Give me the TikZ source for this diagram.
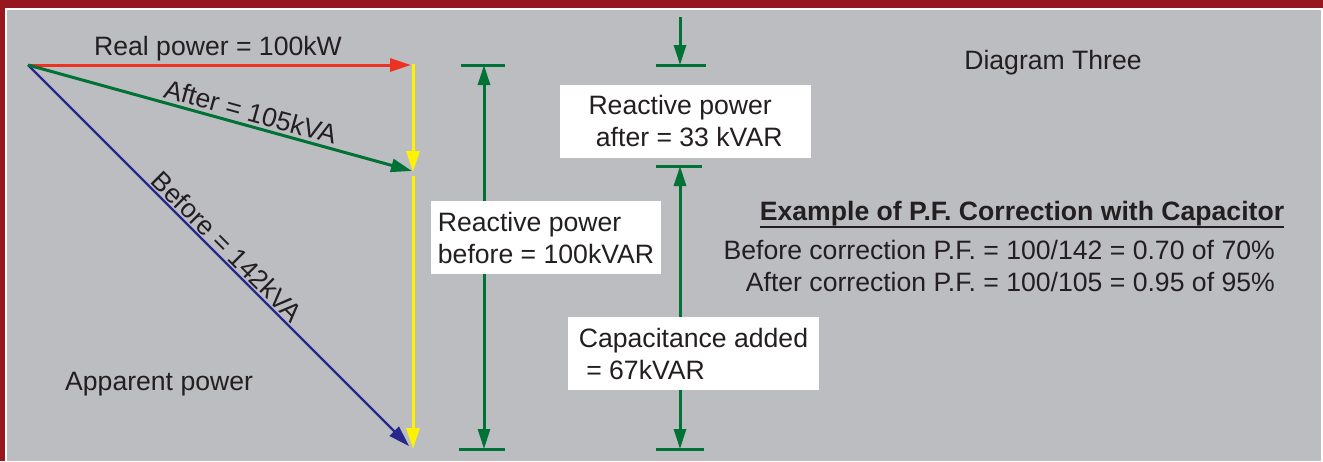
\documentclass[tikz,border=0pt]{standalone}
\usepackage{fontspec}
\setmainfont{Liberation Sans}
\usetikzlibrary{arrows.meta}

\definecolor{framered}{RGB}{150,24,30}
\definecolor{panelgray}{RGB}{188,189,193}
\definecolor{vecred}{RGB}{237,50,36}
\definecolor{vecgreen}{RGB}{0,114,54}
\definecolor{vecblue}{RGB}{40,40,140}
\definecolor{vecyellow}{RGB}{255,242,0}
\definecolor{txtgray}{RGB}{35,31,32}

\newcommand{\diagfont}{\fontsize{26.6}{32}\selectfont}

\begin{document}
\begin{tikzpicture}[x=1pt, y=-1pt,
    every node/.style={font=\diagfont, text=txtgray, inner sep=0pt},
    vec/.style={line width=3pt, -{Triangle[length=21pt,width=13pt]}},
    dimarr/.style={draw=vecgreen, line width=3pt, -{Triangle[length=20pt,width=12pt]}},
    tickline/.style={draw=vecgreen, line width=3pt},
    infobox/.style={fill=white, align=left, minimum height=73pt, inner ysep=4pt}]

    \useasboundingbox (0,0) rectangle (1323,461);

    % ==========================================
    % FRAME: red band, white rule, gray panel
    % ==========================================
    \fill[white] (0,0) rectangle (1323,461);
    \fill[framered] (0,0) rectangle (1323,7.5);
    \fill[framered] (0,0) rectangle (5,461);
    \fill[panelgray] (7.3,10) rectangle (1321,461);

    % ==========================================
    % POWER TRIANGLE
    % ==========================================
    \coordinate (O) at (28,65);
    \coordinate (realend) at (411,65);
    \coordinate (afterend) at (412,171);
    \coordinate (beforeend) at (409,446);
    \coordinate (ytop) at (413,64);
    \coordinate (ymid) at (413,172);
    \coordinate (ygap) at (413,176);
    \coordinate (ybot) at (413,449);

    % Real power (red)
    \draw[vec, vecred] (O) -- (realend);
    \node[anchor=base] (reallbl) at (218,55) {Real power = 100kW};

    % Apparent power before (blue)
    \draw[vec, vecblue, line width=2.4pt] (O) -- (beforeend)
        node[sloped, above, pos=0.5, inner sep=1.5pt] (beforelbl) {Before = 142kVA};

    % Apparent power after (green)
    \draw[vec, vecgreen] (O) -- (afterend)
        node[sloped, above, pos=0.57, inner sep=3pt] (afterlbl) {After = 105kVA};

    % Reactive power (yellow)
    \draw[vec, vecyellow] (ytop) -- (ymid);
    \draw[vec, vecyellow] (ygap) -- (ybot);

    \node[anchor=base west] (apparent) at (65,390) {Apparent power};

    % ==========================================
    % REACTIVE POWER BEFORE (dimension 1)
    % ==========================================
    \coordinate (t1top) at (484,65);
    \coordinate (t1bot) at (484,449);
    \draw[tickline] ([xshift=-23pt]t1top) -- ([xshift=21pt]t1top);
    \draw[tickline] ([xshift=-25pt]t1bot) -- ([xshift=21pt]t1bot);

    \node[infobox, minimum width=230pt] (box1) at (546,237.5)
        {Reactive power\\before = 100kVAR};
    \draw[dimarr] (box1.north -| t1top) -- (t1top);
    \draw[dimarr] (box1.south -| t1bot) -- (t1bot);

    % ==========================================
    % REACTIVE POWER AFTER / CAPACITANCE (dimension 2)
    % ==========================================
    \coordinate (t2start) at (680,17);
    \coordinate (t2top) at (680,65);
    \coordinate (t2mid) at (680,166);
    \coordinate (t2bot) at (680,449);
    \draw[tickline] ([xshift=-24pt]t2top) -- ([xshift=26pt]t2top);
    \draw[tickline] ([xshift=-24pt]t2mid) -- ([xshift=22pt]t2mid);
    \draw[tickline] ([xshift=-24pt]t2bot) -- ([xshift=24pt]t2bot);
    \draw[dimarr] (t2start) -- (t2top);

    \node[infobox, minimum width=251pt] (box2) at (685.5,121)
        {Reactive power\\\hspace*{0.278em}after = 33 kVAR};

    \node[infobox, minimum width=251pt] (box3) at (693.5,353.5)
        {Capacitance added\\\hspace*{0.278em}= 67kVAR};
    \draw[dimarr] (box3.north -| t2mid) -- (t2mid);
    \draw[dimarr] (box3.south -| t2bot) -- (t2bot);

    % ==========================================
    % TEXT BLOCK (right)
    % ==========================================
    \node[anchor=base] (diagtitle) at (1053,69) {Diagram Three};
    \node[anchor=base, font=\diagfont\bfseries] (extitle) at (1022,220)
        {Example of P.F. Correction with Capacitor};
    \draw[txtgray, line width=2pt] ([yshift=-1.5pt]extitle.south west) -- ([yshift=-1.5pt]extitle.south east);
    \node[anchor=base east] (pfbefore) at (1275,259)
        {Before correction P.F. = 100/142 = 0.70 of 70\%};
    \node[anchor=base east] (pfafter) at (1275,291)
        {After correction P.F. = 100/105 = 0.95 of 95\%};

\end{tikzpicture}
\end{document}
